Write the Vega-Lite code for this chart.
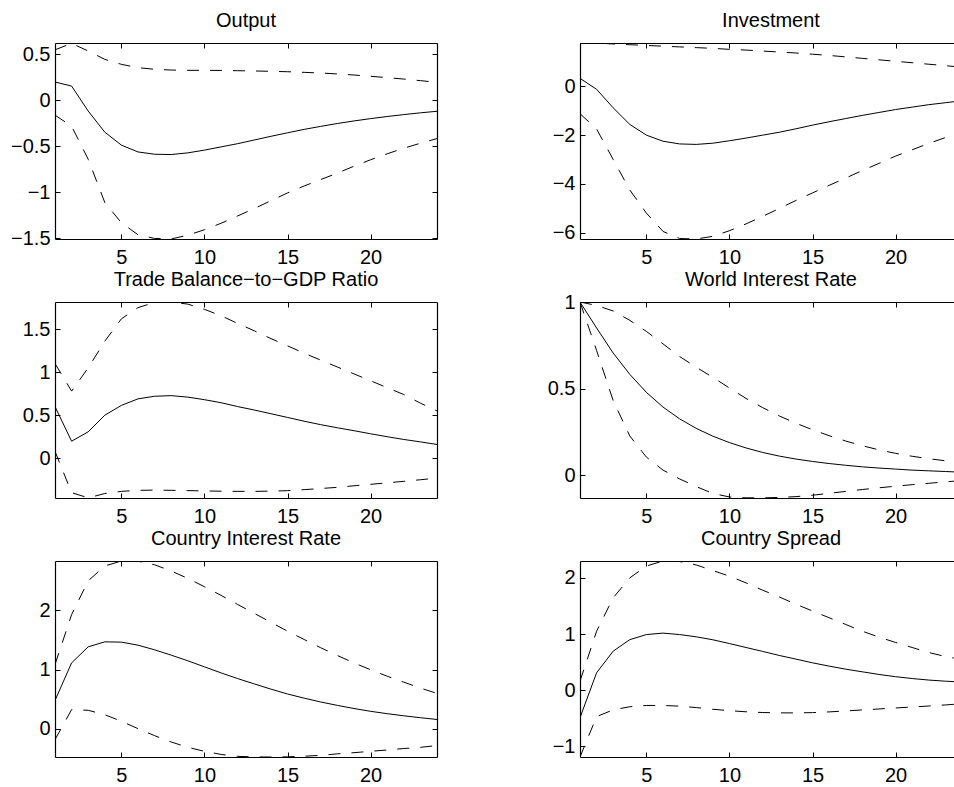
{
"$schema": "https://vega.github.io/schema/vega-lite/v6.json",
"background": "white",
"padding": {"left": 10, "top": 10, "right": 0, "bottom": 0},
"config": {
 "view": {"stroke": null},
 "axis": {"domain": true, "domainColor": "black", "domainWidth": 1.2, "grid": false, "ticks": true, "tickColor": "black", "tickWidth": 1, "tickSize": -5, "labelFont": "Liberation Sans", "labelFontSize": 20, "labelColor": "black", "title": null, "format": "~g"},
 "axisX": {"labelPadding": 13},
 "axisY": {"labelPadding": 10},
 "title": {"font": "Liberation Sans", "fontSize": 20, "fontWeight": "normal", "color": "black", "anchor": "middle", "frame": "group", "baseline": "alphabetic", "offset": 12},
 "line": {"stroke": "black", "strokeWidth": 1}
},
"columns": 2,
"bounds": "flush",
"spacing": {"row": 63, "column": 143},
"data": {"values": [
{"p":"out","s":"m","t":1,"v":0.2},{"p":"out","s":"m","t":2,"v":0.156},{"p":"out","s":"m","t":3,"v":-0.116},{"p":"out","s":"m","t":4,"v":-0.345},{"p":"out","s":"m","t":5,"v":-0.486},{"p":"out","s":"m","t":6,"v":-0.56},{"p":"out","s":"m","t":7,"v":-0.585},{"p":"out","s":"m","t":8,"v":-0.588},{"p":"out","s":"m","t":9,"v":-0.57},{"p":"out","s":"m","t":10,"v":-0.54},{"p":"out","s":"m","t":11,"v":-0.505},{"p":"out","s":"m","t":12,"v":-0.47},{"p":"out","s":"m","t":13,"v":-0.43},{"p":"out","s":"m","t":14,"v":-0.39},{"p":"out","s":"m","t":15,"v":-0.352},{"p":"out","s":"m","t":16,"v":-0.315},{"p":"out","s":"m","t":17,"v":-0.282},{"p":"out","s":"m","t":18,"v":-0.251},{"p":"out","s":"m","t":19,"v":-0.223},{"p":"out","s":"m","t":20,"v":-0.198},{"p":"out","s":"m","t":21,"v":-0.175},{"p":"out","s":"m","t":22,"v":-0.154},{"p":"out","s":"m","t":23,"v":-0.135},{"p":"out","s":"m","t":24,"v":-0.118},
{"p":"out","s":"u","t":1,"v":0.55},{"p":"out","s":"u","t":2,"v":0.62},{"p":"out","s":"u","t":3,"v":0.537},{"p":"out","s":"u","t":4,"v":0.446},{"p":"out","s":"u","t":5,"v":0.392},{"p":"out","s":"u","t":6,"v":0.356},{"p":"out","s":"u","t":7,"v":0.338},{"p":"out","s":"u","t":8,"v":0.33},{"p":"out","s":"u","t":9,"v":0.327},{"p":"out","s":"u","t":10,"v":0.327},{"p":"out","s":"u","t":11,"v":0.326},{"p":"out","s":"u","t":12,"v":0.323},{"p":"out","s":"u","t":13,"v":0.32},{"p":"out","s":"u","t":14,"v":0.316},{"p":"out","s":"u","t":15,"v":0.312},{"p":"out","s":"u","t":16,"v":0.305},{"p":"out","s":"u","t":17,"v":0.298},{"p":"out","s":"u","t":18,"v":0.288},{"p":"out","s":"u","t":19,"v":0.276},{"p":"out","s":"u","t":20,"v":0.262},{"p":"out","s":"u","t":21,"v":0.248},{"p":"out","s":"u","t":22,"v":0.232},{"p":"out","s":"u","t":23,"v":0.215},{"p":"out","s":"u","t":24,"v":0.196},
{"p":"out","s":"l","t":1,"v":-0.16},{"p":"out","s":"l","t":2,"v":-0.28},{"p":"out","s":"l","t":3,"v":-0.64},{"p":"out","s":"l","t":4,"v":-1.11},{"p":"out","s":"l","t":5,"v":-1.33},{"p":"out","s":"l","t":6,"v":-1.46},{"p":"out","s":"l","t":7,"v":-1.5},{"p":"out","s":"l","t":8,"v":-1.505},{"p":"out","s":"l","t":9,"v":-1.465},{"p":"out","s":"l","t":10,"v":-1.405},{"p":"out","s":"l","t":11,"v":-1.335},{"p":"out","s":"l","t":12,"v":-1.255},{"p":"out","s":"l","t":13,"v":-1.175},{"p":"out","s":"l","t":14,"v":-1.09},{"p":"out","s":"l","t":15,"v":-1.005},{"p":"out","s":"l","t":16,"v":-0.93},{"p":"out","s":"l","t":17,"v":-0.86},{"p":"out","s":"l","t":18,"v":-0.79},{"p":"out","s":"l","t":19,"v":-0.715},{"p":"out","s":"l","t":20,"v":-0.645},{"p":"out","s":"l","t":21,"v":-0.58},{"p":"out","s":"l","t":22,"v":-0.52},{"p":"out","s":"l","t":23,"v":-0.465},{"p":"out","s":"l","t":24,"v":-0.415},
{"p":"inv","s":"m","t":1,"v":0.33},{"p":"inv","s":"m","t":2,"v":-0.12},{"p":"inv","s":"m","t":3,"v":-0.88},{"p":"inv","s":"m","t":4,"v":-1.56},{"p":"inv","s":"m","t":5,"v":-2.0},{"p":"inv","s":"m","t":6,"v":-2.25},{"p":"inv","s":"m","t":7,"v":-2.36},{"p":"inv","s":"m","t":8,"v":-2.38},{"p":"inv","s":"m","t":9,"v":-2.33},{"p":"inv","s":"m","t":10,"v":-2.23},{"p":"inv","s":"m","t":11,"v":-2.12},{"p":"inv","s":"m","t":12,"v":-2.0},{"p":"inv","s":"m","t":13,"v":-1.88},{"p":"inv","s":"m","t":14,"v":-1.74},{"p":"inv","s":"m","t":15,"v":-1.59},{"p":"inv","s":"m","t":16,"v":-1.45},{"p":"inv","s":"m","t":17,"v":-1.32},{"p":"inv","s":"m","t":18,"v":-1.19},{"p":"inv","s":"m","t":19,"v":-1.07},{"p":"inv","s":"m","t":20,"v":-0.95},{"p":"inv","s":"m","t":21,"v":-0.85},{"p":"inv","s":"m","t":22,"v":-0.75},{"p":"inv","s":"m","t":23,"v":-0.67},{"p":"inv","s":"m","t":24,"v":-0.59},
{"p":"inv","s":"u","t":1,"v":1.77},{"p":"inv","s":"u","t":2,"v":1.78},{"p":"inv","s":"u","t":3,"v":1.74},{"p":"inv","s":"u","t":4,"v":1.71},{"p":"inv","s":"u","t":5,"v":1.68},{"p":"inv","s":"u","t":6,"v":1.65},{"p":"inv","s":"u","t":7,"v":1.62},{"p":"inv","s":"u","t":8,"v":1.59},{"p":"inv","s":"u","t":9,"v":1.56},{"p":"inv","s":"u","t":10,"v":1.52},{"p":"inv","s":"u","t":11,"v":1.49},{"p":"inv","s":"u","t":12,"v":1.45},{"p":"inv","s":"u","t":13,"v":1.41},{"p":"inv","s":"u","t":14,"v":1.37},{"p":"inv","s":"u","t":15,"v":1.32},{"p":"inv","s":"u","t":16,"v":1.27},{"p":"inv","s":"u","t":17,"v":1.21},{"p":"inv","s":"u","t":18,"v":1.15},{"p":"inv","s":"u","t":19,"v":1.09},{"p":"inv","s":"u","t":20,"v":1.03},{"p":"inv","s":"u","t":21,"v":0.97},{"p":"inv","s":"u","t":22,"v":0.91},{"p":"inv","s":"u","t":23,"v":0.85},{"p":"inv","s":"u","t":24,"v":0.79},
{"p":"inv","s":"l","t":1,"v":-1.12},{"p":"inv","s":"l","t":2,"v":-1.75},{"p":"inv","s":"l","t":3,"v":-3.0},{"p":"inv","s":"l","t":4,"v":-4.25},{"p":"inv","s":"l","t":5,"v":-5.2},{"p":"inv","s":"l","t":6,"v":-5.95},{"p":"inv","s":"l","t":7,"v":-6.24},{"p":"inv","s":"l","t":8,"v":-6.26},{"p":"inv","s":"l","t":9,"v":-6.15},{"p":"inv","s":"l","t":10,"v":-5.92},{"p":"inv","s":"l","t":11,"v":-5.64},{"p":"inv","s":"l","t":12,"v":-5.33},{"p":"inv","s":"l","t":13,"v":-5.01},{"p":"inv","s":"l","t":14,"v":-4.68},{"p":"inv","s":"l","t":15,"v":-4.37},{"p":"inv","s":"l","t":16,"v":-4.06},{"p":"inv","s":"l","t":17,"v":-3.76},{"p":"inv","s":"l","t":18,"v":-3.45},{"p":"inv","s":"l","t":19,"v":-3.16},{"p":"inv","s":"l","t":20,"v":-2.86},{"p":"inv","s":"l","t":21,"v":-2.6},{"p":"inv","s":"l","t":22,"v":-2.34},{"p":"inv","s":"l","t":23,"v":-2.1},{"p":"inv","s":"l","t":24,"v":-1.86},
{"p":"tb","s":"m","t":1,"v":0.6},{"p":"tb","s":"m","t":2,"v":0.198},{"p":"tb","s":"m","t":3,"v":0.307},{"p":"tb","s":"m","t":4,"v":0.5},{"p":"tb","s":"m","t":5,"v":0.614},{"p":"tb","s":"m","t":6,"v":0.69},{"p":"tb","s":"m","t":7,"v":0.72},{"p":"tb","s":"m","t":8,"v":0.727},{"p":"tb","s":"m","t":9,"v":0.71},{"p":"tb","s":"m","t":10,"v":0.68},{"p":"tb","s":"m","t":11,"v":0.645},{"p":"tb","s":"m","t":12,"v":0.6},{"p":"tb","s":"m","t":13,"v":0.56},{"p":"tb","s":"m","t":14,"v":0.517},{"p":"tb","s":"m","t":15,"v":0.474},{"p":"tb","s":"m","t":16,"v":0.43},{"p":"tb","s":"m","t":17,"v":0.39},{"p":"tb","s":"m","t":18,"v":0.354},{"p":"tb","s":"m","t":19,"v":0.32},{"p":"tb","s":"m","t":20,"v":0.284},{"p":"tb","s":"m","t":21,"v":0.25},{"p":"tb","s":"m","t":22,"v":0.218},{"p":"tb","s":"m","t":23,"v":0.19},{"p":"tb","s":"m","t":24,"v":0.16},
{"p":"tb","s":"u","t":1,"v":1.1},{"p":"tb","s":"u","t":2,"v":0.78},{"p":"tb","s":"u","t":3,"v":1.05},{"p":"tb","s":"u","t":4,"v":1.36},{"p":"tb","s":"u","t":5,"v":1.62},{"p":"tb","s":"u","t":6,"v":1.75},{"p":"tb","s":"u","t":7,"v":1.81},{"p":"tb","s":"u","t":8,"v":1.815},{"p":"tb","s":"u","t":9,"v":1.79},{"p":"tb","s":"u","t":10,"v":1.73},{"p":"tb","s":"u","t":11,"v":1.655},{"p":"tb","s":"u","t":12,"v":1.566},{"p":"tb","s":"u","t":13,"v":1.48},{"p":"tb","s":"u","t":14,"v":1.39},{"p":"tb","s":"u","t":15,"v":1.306},{"p":"tb","s":"u","t":16,"v":1.22},{"p":"tb","s":"u","t":17,"v":1.14},{"p":"tb","s":"u","t":18,"v":1.06},{"p":"tb","s":"u","t":19,"v":0.98},{"p":"tb","s":"u","t":20,"v":0.9},{"p":"tb","s":"u","t":21,"v":0.82},{"p":"tb","s":"u","t":22,"v":0.74},{"p":"tb","s":"u","t":23,"v":0.64},{"p":"tb","s":"u","t":24,"v":0.55},
{"p":"tb","s":"l","t":1,"v":0.08},{"p":"tb","s":"l","t":2,"v":-0.4},{"p":"tb","s":"l","t":3,"v":-0.46},{"p":"tb","s":"l","t":4,"v":-0.41},{"p":"tb","s":"l","t":5,"v":-0.385},{"p":"tb","s":"l","t":6,"v":-0.373},{"p":"tb","s":"l","t":7,"v":-0.37},{"p":"tb","s":"l","t":8,"v":-0.373},{"p":"tb","s":"l","t":9,"v":-0.376},{"p":"tb","s":"l","t":10,"v":-0.38},{"p":"tb","s":"l","t":11,"v":-0.383},{"p":"tb","s":"l","t":12,"v":-0.385},{"p":"tb","s":"l","t":13,"v":-0.385},{"p":"tb","s":"l","t":14,"v":-0.382},{"p":"tb","s":"l","t":15,"v":-0.377},{"p":"tb","s":"l","t":16,"v":-0.365},{"p":"tb","s":"l","t":17,"v":-0.352},{"p":"tb","s":"l","t":18,"v":-0.338},{"p":"tb","s":"l","t":19,"v":-0.32},{"p":"tb","s":"l","t":20,"v":-0.303},{"p":"tb","s":"l","t":21,"v":-0.286},{"p":"tb","s":"l","t":22,"v":-0.268},{"p":"tb","s":"l","t":23,"v":-0.25},{"p":"tb","s":"l","t":24,"v":-0.23},
{"p":"wr","s":"m","t":1,"v":1.0},{"p":"wr","s":"m","t":2,"v":0.85},{"p":"wr","s":"m","t":3,"v":0.705},{"p":"wr","s":"m","t":4,"v":0.582},{"p":"wr","s":"m","t":5,"v":0.478},{"p":"wr","s":"m","t":6,"v":0.393},{"p":"wr","s":"m","t":7,"v":0.325},{"p":"wr","s":"m","t":8,"v":0.27},{"p":"wr","s":"m","t":9,"v":0.225},{"p":"wr","s":"m","t":10,"v":0.188},{"p":"wr","s":"m","t":11,"v":0.157},{"p":"wr","s":"m","t":12,"v":0.131},{"p":"wr","s":"m","t":13,"v":0.11},{"p":"wr","s":"m","t":14,"v":0.093},{"p":"wr","s":"m","t":15,"v":0.079},{"p":"wr","s":"m","t":16,"v":0.067},{"p":"wr","s":"m","t":17,"v":0.057},{"p":"wr","s":"m","t":18,"v":0.048},{"p":"wr","s":"m","t":19,"v":0.041},{"p":"wr","s":"m","t":20,"v":0.035},{"p":"wr","s":"m","t":21,"v":0.029},{"p":"wr","s":"m","t":22,"v":0.025},{"p":"wr","s":"m","t":23,"v":0.021},{"p":"wr","s":"m","t":24,"v":0.017},
{"p":"wr","s":"u","t":1,"v":1.0},{"p":"wr","s":"u","t":2,"v":0.98},{"p":"wr","s":"u","t":3,"v":0.948},{"p":"wr","s":"u","t":4,"v":0.894},{"p":"wr","s":"u","t":5,"v":0.83},{"p":"wr","s":"u","t":6,"v":0.758},{"p":"wr","s":"u","t":7,"v":0.685},{"p":"wr","s":"u","t":8,"v":0.623},{"p":"wr","s":"u","t":9,"v":0.565},{"p":"wr","s":"u","t":10,"v":0.503},{"p":"wr","s":"u","t":11,"v":0.443},{"p":"wr","s":"u","t":12,"v":0.39},{"p":"wr","s":"u","t":13,"v":0.342},{"p":"wr","s":"u","t":14,"v":0.3},{"p":"wr","s":"u","t":15,"v":0.262},{"p":"wr","s":"u","t":16,"v":0.228},{"p":"wr","s":"u","t":17,"v":0.197},{"p":"wr","s":"u","t":18,"v":0.17},{"p":"wr","s":"u","t":19,"v":0.146},{"p":"wr","s":"u","t":20,"v":0.126},{"p":"wr","s":"u","t":21,"v":0.109},{"p":"wr","s":"u","t":22,"v":0.095},{"p":"wr","s":"u","t":23,"v":0.083},{"p":"wr","s":"u","t":24,"v":0.073},
{"p":"wr","s":"l","t":1,"v":1.0},{"p":"wr","s":"l","t":2,"v":0.72},{"p":"wr","s":"l","t":3,"v":0.43},{"p":"wr","s":"l","t":4,"v":0.226},{"p":"wr","s":"l","t":5,"v":0.104},{"p":"wr","s":"l","t":6,"v":0.029},{"p":"wr","s":"l","t":7,"v":-0.022},{"p":"wr","s":"l","t":8,"v":-0.066},{"p":"wr","s":"l","t":9,"v":-0.106},{"p":"wr","s":"l","t":10,"v":-0.126},{"p":"wr","s":"l","t":11,"v":-0.131},{"p":"wr","s":"l","t":12,"v":-0.131},{"p":"wr","s":"l","t":13,"v":-0.129},{"p":"wr","s":"l","t":14,"v":-0.124},{"p":"wr","s":"l","t":15,"v":-0.116},{"p":"wr","s":"l","t":16,"v":-0.105},{"p":"wr","s":"l","t":17,"v":-0.094},{"p":"wr","s":"l","t":18,"v":-0.083},{"p":"wr","s":"l","t":19,"v":-0.073},{"p":"wr","s":"l","t":20,"v":-0.064},{"p":"wr","s":"l","t":21,"v":-0.055},{"p":"wr","s":"l","t":22,"v":-0.047},{"p":"wr","s":"l","t":23,"v":-0.039},{"p":"wr","s":"l","t":24,"v":-0.031},
{"p":"cr","s":"m","t":1,"v":0.48},{"p":"cr","s":"m","t":2,"v":1.115},{"p":"cr","s":"m","t":3,"v":1.386},{"p":"cr","s":"m","t":4,"v":1.47},{"p":"cr","s":"m","t":5,"v":1.465},{"p":"cr","s":"m","t":6,"v":1.414},{"p":"cr","s":"m","t":7,"v":1.335},{"p":"cr","s":"m","t":8,"v":1.245},{"p":"cr","s":"m","t":9,"v":1.15},{"p":"cr","s":"m","t":10,"v":1.048},{"p":"cr","s":"m","t":11,"v":0.946},{"p":"cr","s":"m","t":12,"v":0.85},{"p":"cr","s":"m","t":13,"v":0.76},{"p":"cr","s":"m","t":14,"v":0.672},{"p":"cr","s":"m","t":15,"v":0.59},{"p":"cr","s":"m","t":16,"v":0.52},{"p":"cr","s":"m","t":17,"v":0.455},{"p":"cr","s":"m","t":18,"v":0.398},{"p":"cr","s":"m","t":19,"v":0.345},{"p":"cr","s":"m","t":20,"v":0.298},{"p":"cr","s":"m","t":21,"v":0.258},{"p":"cr","s":"m","t":22,"v":0.222},{"p":"cr","s":"m","t":23,"v":0.19},{"p":"cr","s":"m","t":24,"v":0.16},
{"p":"cr","s":"u","t":1,"v":1.087},{"p":"cr","s":"u","t":2,"v":1.93},{"p":"cr","s":"u","t":3,"v":2.5},{"p":"cr","s":"u","t":4,"v":2.75},{"p":"cr","s":"u","t":5,"v":2.834},{"p":"cr","s":"u","t":6,"v":2.83},{"p":"cr","s":"u","t":7,"v":2.77},{"p":"cr","s":"u","t":8,"v":2.665},{"p":"cr","s":"u","t":9,"v":2.54},{"p":"cr","s":"u","t":10,"v":2.4},{"p":"cr","s":"u","t":11,"v":2.254},{"p":"cr","s":"u","t":12,"v":2.1},{"p":"cr","s":"u","t":13,"v":1.95},{"p":"cr","s":"u","t":14,"v":1.8},{"p":"cr","s":"u","t":15,"v":1.65},{"p":"cr","s":"u","t":16,"v":1.51},{"p":"cr","s":"u","t":17,"v":1.37},{"p":"cr","s":"u","t":18,"v":1.24},{"p":"cr","s":"u","t":19,"v":1.115},{"p":"cr","s":"u","t":20,"v":1.0},{"p":"cr","s":"u","t":21,"v":0.89},{"p":"cr","s":"u","t":22,"v":0.79},{"p":"cr","s":"u","t":23,"v":0.69},{"p":"cr","s":"u","t":24,"v":0.6},
{"p":"cr","s":"l","t":1,"v":-0.18},{"p":"cr","s":"l","t":2,"v":0.327},{"p":"cr","s":"l","t":3,"v":0.315},{"p":"cr","s":"l","t":4,"v":0.24},{"p":"cr","s":"l","t":5,"v":0.13},{"p":"cr","s":"l","t":6,"v":0.005},{"p":"cr","s":"l","t":7,"v":-0.113},{"p":"cr","s":"l","t":8,"v":-0.22},{"p":"cr","s":"l","t":9,"v":-0.31},{"p":"cr","s":"l","t":10,"v":-0.377},{"p":"cr","s":"l","t":11,"v":-0.43},{"p":"cr","s":"l","t":12,"v":-0.462},{"p":"cr","s":"l","t":13,"v":-0.472},{"p":"cr","s":"l","t":14,"v":-0.473},{"p":"cr","s":"l","t":15,"v":-0.47},{"p":"cr","s":"l","t":16,"v":-0.46},{"p":"cr","s":"l","t":17,"v":-0.445},{"p":"cr","s":"l","t":18,"v":-0.42},{"p":"cr","s":"l","t":19,"v":-0.4},{"p":"cr","s":"l","t":20,"v":-0.377},{"p":"cr","s":"l","t":21,"v":-0.355},{"p":"cr","s":"l","t":22,"v":-0.33},{"p":"cr","s":"l","t":23,"v":-0.31},{"p":"cr","s":"l","t":24,"v":-0.28},
{"p":"cs","s":"m","t":1,"v":-0.49},{"p":"cs","s":"m","t":2,"v":0.31},{"p":"cs","s":"m","t":3,"v":0.695},{"p":"cs","s":"m","t":4,"v":0.9},{"p":"cs","s":"m","t":5,"v":0.99},{"p":"cs","s":"m","t":6,"v":1.016},{"p":"cs","s":"m","t":7,"v":0.99},{"p":"cs","s":"m","t":8,"v":0.95},{"p":"cs","s":"m","t":9,"v":0.897},{"p":"cs","s":"m","t":10,"v":0.83},{"p":"cs","s":"m","t":11,"v":0.76},{"p":"cs","s":"m","t":12,"v":0.69},{"p":"cs","s":"m","t":13,"v":0.618},{"p":"cs","s":"m","t":14,"v":0.553},{"p":"cs","s":"m","t":15,"v":0.487},{"p":"cs","s":"m","t":16,"v":0.428},{"p":"cs","s":"m","t":17,"v":0.374},{"p":"cs","s":"m","t":18,"v":0.327},{"p":"cs","s":"m","t":19,"v":0.28},{"p":"cs","s":"m","t":20,"v":0.24},{"p":"cs","s":"m","t":21,"v":0.207},{"p":"cs","s":"m","t":22,"v":0.18},{"p":"cs","s":"m","t":23,"v":0.16},{"p":"cs","s":"m","t":24,"v":0.145},
{"p":"cs","s":"u","t":1,"v":0.16},{"p":"cs","s":"u","t":2,"v":1.05},{"p":"cs","s":"u","t":3,"v":1.646},{"p":"cs","s":"u","t":4,"v":2.0},{"p":"cs","s":"u","t":5,"v":2.21},{"p":"cs","s":"u","t":6,"v":2.3},{"p":"cs","s":"u","t":7,"v":2.29},{"p":"cs","s":"u","t":8,"v":2.23},{"p":"cs","s":"u","t":9,"v":2.13},{"p":"cs","s":"u","t":10,"v":2.03},{"p":"cs","s":"u","t":11,"v":1.91},{"p":"cs","s":"u","t":12,"v":1.78},{"p":"cs","s":"u","t":13,"v":1.66},{"p":"cs","s":"u","t":14,"v":1.53},{"p":"cs","s":"u","t":15,"v":1.41},{"p":"cs","s":"u","t":16,"v":1.29},{"p":"cs","s":"u","t":17,"v":1.17},{"p":"cs","s":"u","t":18,"v":1.05},{"p":"cs","s":"u","t":19,"v":0.945},{"p":"cs","s":"u","t":20,"v":0.85},{"p":"cs","s":"u","t":21,"v":0.76},{"p":"cs","s":"u","t":22,"v":0.67},{"p":"cs","s":"u","t":23,"v":0.6},{"p":"cs","s":"u","t":24,"v":0.545},
{"p":"cs","s":"l","t":1,"v":-1.19},{"p":"cs","s":"l","t":2,"v":-0.47},{"p":"cs","s":"l","t":3,"v":-0.35},{"p":"cs","s":"l","t":4,"v":-0.295},{"p":"cs","s":"l","t":5,"v":-0.272},{"p":"cs","s":"l","t":6,"v":-0.272},{"p":"cs","s":"l","t":7,"v":-0.285},{"p":"cs","s":"l","t":8,"v":-0.31},{"p":"cs","s":"l","t":9,"v":-0.34},{"p":"cs","s":"l","t":10,"v":-0.365},{"p":"cs","s":"l","t":11,"v":-0.385},{"p":"cs","s":"l","t":12,"v":-0.398},{"p":"cs","s":"l","t":13,"v":-0.404},{"p":"cs","s":"l","t":14,"v":-0.405},{"p":"cs","s":"l","t":15,"v":-0.4},{"p":"cs","s":"l","t":16,"v":-0.387},{"p":"cs","s":"l","t":17,"v":-0.37},{"p":"cs","s":"l","t":18,"v":-0.352},{"p":"cs","s":"l","t":19,"v":-0.335},{"p":"cs","s":"l","t":20,"v":-0.317},{"p":"cs","s":"l","t":21,"v":-0.3},{"p":"cs","s":"l","t":22,"v":-0.282},{"p":"cs","s":"l","t":23,"v":-0.263},{"p":"cs","s":"l","t":24,"v":-0.243}
]},
"concat": [
{"width": 382, "height": 196, "title": {"text": "Output"},
 "layer": [
  {"transform": [{"filter": "datum.p == 'out' && datum.s != 'm'"}], "mark": {"type": "line", "clip": true, "strokeDash": [12, 11]},
   "encoding": {"x": {"field": "t", "type": "quantitative", "scale": {"domain": [1, 24], "nice": false, "zero": false}, "axis": {"orient": "bottom", "values": [5, 10, 15, 20]}},
    "y": {"field": "v", "type": "quantitative", "scale": {"domain": [-1.506, 0.624], "nice": false, "zero": false}, "axis": {"orient": "left", "values": [-1.5, -1, -0.5, 0, 0.5]}},
    "detail": {"field": "s"}}},
  {"transform": [{"filter": "datum.p == 'out' && datum.s == 'm'"}], "mark": {"type": "line", "clip": true},
   "encoding": {"x": {"field": "t", "type": "quantitative", "scale": {"domain": [1, 24], "nice": false, "zero": false}, "axis": {"orient": "top", "values": [5, 10, 15, 20], "labels": false}},
    "y": {"field": "v", "type": "quantitative", "scale": {"domain": [-1.506, 0.624], "nice": false, "zero": false}, "axis": {"orient": "right", "values": [-1.5, -1, -0.5, 0, 0.5], "labels": false}}}}
 ],
 "resolve": {"axis": {"x": "independent", "y": "independent"}}},
{"width": 374, "height": 196, "title": {"text": "Investment", "dx": 4},
 "layer": [
  {"transform": [{"filter": "datum.p == 'inv' && datum.s != 'm'"}], "mark": {"type": "line", "clip": true, "strokeDash": [12, 11]},
   "encoding": {"x": {"field": "t", "type": "quantitative", "scale": {"domain": [1, 23.52], "nice": false, "zero": false}, "axis": {"orient": "bottom", "values": [5, 10, 15, 20]}},
    "y": {"field": "v", "type": "quantitative", "scale": {"domain": [-6.26, 1.78], "nice": false, "zero": false}, "axis": {"orient": "left", "values": [-6, -4, -2, 0]}},
    "detail": {"field": "s"}}},
  {"transform": [{"filter": "datum.p == 'inv' && datum.s == 'm'"}], "mark": {"type": "line", "clip": true},
   "encoding": {"x": {"field": "t", "type": "quantitative", "scale": {"domain": [1, 23.52], "nice": false, "zero": false}, "axis": {"orient": "top", "values": [5, 10, 15, 20], "labels": false}},
    "y": {"field": "v", "type": "quantitative", "scale": {"domain": [-6.26, 1.78], "nice": false, "zero": false}, "axis": null}}}
 ],
 "resolve": {"axis": {"x": "independent", "y": "independent"}}},
{"width": 382, "height": 196, "title": {"text": "Trade Balance−to−GDP Ratio"},
 "layer": [
  {"transform": [{"filter": "datum.p == 'tb' && datum.s != 'm'"}], "mark": {"type": "line", "clip": true, "strokeDash": [12, 11]},
   "encoding": {"x": {"field": "t", "type": "quantitative", "scale": {"domain": [1, 24], "nice": false, "zero": false}, "axis": {"orient": "bottom", "values": [5, 10, 15, 20]}},
    "y": {"field": "v", "type": "quantitative", "scale": {"domain": [-0.462, 1.815], "nice": false, "zero": false}, "axis": {"orient": "left", "values": [0, 0.5, 1, 1.5]}},
    "detail": {"field": "s"}}},
  {"transform": [{"filter": "datum.p == 'tb' && datum.s == 'm'"}], "mark": {"type": "line", "clip": true},
   "encoding": {"x": {"field": "t", "type": "quantitative", "scale": {"domain": [1, 24], "nice": false, "zero": false}, "axis": {"orient": "top", "values": [5, 10, 15, 20], "labels": false}},
    "y": {"field": "v", "type": "quantitative", "scale": {"domain": [-0.462, 1.815], "nice": false, "zero": false}, "axis": {"orient": "right", "values": [0, 0.5, 1, 1.5], "labels": false}}}}
 ],
 "resolve": {"axis": {"x": "independent", "y": "independent"}}},
{"width": 374, "height": 196, "title": {"text": "World Interest Rate", "dx": 4, "offset": 2},
 "layer": [
  {"transform": [{"filter": "datum.p == 'wr' && datum.s != 'm'"}], "mark": {"type": "line", "clip": true, "strokeDash": [12, 11]},
   "encoding": {"x": {"field": "t", "type": "quantitative", "scale": {"domain": [1, 23.52], "nice": false, "zero": false}, "axis": {"orient": "bottom", "values": [5, 10, 15, 20]}},
    "y": {"field": "v", "type": "quantitative", "scale": {"domain": [-0.132, 1.0], "nice": false, "zero": false}, "axis": {"orient": "left", "values": [0, 0.5, 1]}},
    "detail": {"field": "s"}}},
  {"transform": [{"filter": "datum.p == 'wr' && datum.s == 'm'"}], "mark": {"type": "line", "clip": true},
   "encoding": {"x": {"field": "t", "type": "quantitative", "scale": {"domain": [1, 23.52], "nice": false, "zero": false}, "axis": {"orient": "top", "values": [5, 10, 15, 20], "labels": false}},
    "y": {"field": "v", "type": "quantitative", "scale": {"domain": [-0.132, 1.0], "nice": false, "zero": false}, "axis": null}}}
 ],
 "resolve": {"axis": {"x": "independent", "y": "independent"}}},
{"width": 382, "height": 196, "title": {"text": "Country Interest Rate"},
 "layer": [
  {"transform": [{"filter": "datum.p == 'cr' && datum.s != 'm'"}], "mark": {"type": "line", "clip": true, "strokeDash": [12, 11]},
   "encoding": {"x": {"field": "t", "type": "quantitative", "scale": {"domain": [1, 24], "nice": false, "zero": false}, "axis": {"orient": "bottom", "values": [5, 10, 15, 20]}},
    "y": {"field": "v", "type": "quantitative", "scale": {"domain": [-0.473, 2.834], "nice": false, "zero": false}, "axis": {"orient": "left", "values": [0, 1, 2]}},
    "detail": {"field": "s"}}},
  {"transform": [{"filter": "datum.p == 'cr' && datum.s == 'm'"}], "mark": {"type": "line", "clip": true},
   "encoding": {"x": {"field": "t", "type": "quantitative", "scale": {"domain": [1, 24], "nice": false, "zero": false}, "axis": {"orient": "top", "values": [5, 10, 15, 20], "labels": false}},
    "y": {"field": "v", "type": "quantitative", "scale": {"domain": [-0.473, 2.834], "nice": false, "zero": false}, "axis": {"orient": "right", "values": [0, 1, 2], "labels": false}}}}
 ],
 "resolve": {"axis": {"x": "independent", "y": "independent"}}},
{"width": 374, "height": 196, "title": {"text": "Country Spread", "dx": 4},
 "layer": [
  {"transform": [{"filter": "datum.p == 'cs' && datum.s != 'm'"}], "mark": {"type": "line", "clip": true, "strokeDash": [12, 11]},
   "encoding": {"x": {"field": "t", "type": "quantitative", "scale": {"domain": [1, 23.52], "nice": false, "zero": false}, "axis": {"orient": "bottom", "values": [5, 10, 15, 20]}},
    "y": {"field": "v", "type": "quantitative", "scale": {"domain": [-1.19, 2.3], "nice": false, "zero": false}, "axis": {"orient": "left", "values": [-1, 0, 1, 2]}},
    "detail": {"field": "s"}}},
  {"transform": [{"filter": "datum.p == 'cs' && datum.s == 'm'"}], "mark": {"type": "line", "clip": true},
   "encoding": {"x": {"field": "t", "type": "quantitative", "scale": {"domain": [1, 23.52], "nice": false, "zero": false}, "axis": {"orient": "top", "values": [5, 10, 15, 20], "labels": false}},
    "y": {"field": "v", "type": "quantitative", "scale": {"domain": [-1.19, 2.3], "nice": false, "zero": false}, "axis": null}}}
 ],
 "resolve": {"axis": {"x": "independent", "y": "independent"}}}
]
}
